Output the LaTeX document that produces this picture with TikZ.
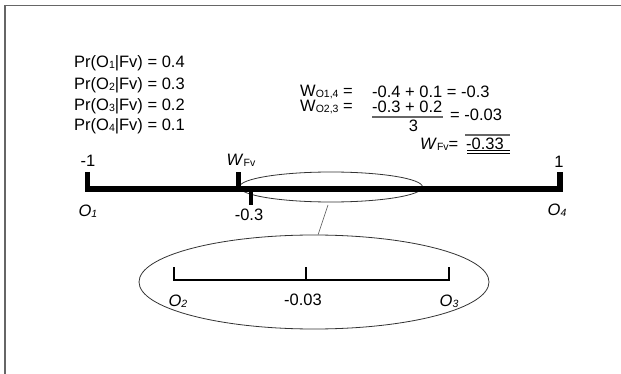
\documentclass[tikz,border=0pt]{standalone}
\usepackage{fontspec}
\setmainfont{Liberation Sans}
\usetikzlibrary{shapes.geometric,calc}
\newcommand{\lowsub}[1]{\raisebox{-1pt}{\fontsize{10.5}{11}\selectfont #1}}
\begin{document}
\begin{tikzpicture}[x=1pt, y=-1pt,
    lbl/.style={font=\fontsize{16.5}{19}\selectfont, inner sep=0pt},
    axisline/.style={line width=5.5pt, line join=miter, line cap=butt},
    minoraxis/.style={line width=2.6pt, line join=miter},
    zoomring/.style={ellipse, draw=black!80, line width=0.8pt, inner sep=0pt},
    rule/.style={draw=black!60, line width=1.3pt},
    frameline/.style={draw=black!60, line width=1.6pt}
]
    \useasboundingbox (0,0) rectangle (621,374);
    \draw[frameline] (5,374) -- (5,5.5) -- (621,5.5);
    \foreach \i/\p/\y in {1/0.4/63, 2/0.3/85, 3/0.2/106, 4/0.1/126}
        \node[lbl, anchor=west] (pr\i) at (74,\y) {Pr(O\lowsub{\i}|Fv) = \p};
    \node[lbl, anchor=west] (w14) at (300,92) {W\lowsub{O1,4} =};
    \node[lbl, anchor=west] (w14v) at (372,92) {-0.4 + 0.1 = -0.3};
    \node[lbl, anchor=west] (w23) at (300,107) {W\lowsub{O2,3} =};
    \node[lbl, anchor=west] (num) at (372,107) {-0.3 + 0.2};
    \node[lbl] (den) at (413.5,126) {3};
    \node[lbl, anchor=west] (w23v) at (450,115) {= -0.03};
    \draw[rule] ($(num.south west)+(0,4)$) -- ($(num.south east)+(0,4)$);
    \node[lbl, anchor=west] (wfv) at (420,144) {\textit{W}\lowsub{Fv}=};
    \node[lbl, anchor=west] (wfvv) at (466,144) {-0.33};
    \draw[rule] (465,135) -- (510,135);
    \draw[line width=1pt] (467,151) -- (510,151) (467,154) -- (510,154);
    \node[zoomring, minimum width=183pt, minimum height=30pt] (small) at (331,187) {};
    \node[zoomring, minimum width=350pt, minimum height=94pt] (big) at (314,282) {};
    \coordinate (zoomtop) at (328,205);
    \draw[black!70, line width=0.6pt] (zoomtop) -- (big.85);
    \coordinate (o1) at (87.5,189);
    \coordinate (o4) at (560,189);
    \coordinate (wtick) at (238.5,189);
    \coordinate (rtick) at (251,189);
    \draw[axisline] ($(o1)+(0,-17)$) -- (o1) -- (o4) -- ($(o4)+(0,-17)$);
    \draw[line width=5pt] (wtick) -- ++(0,-17);
    \draw[line width=4pt] (rtick) -- ++(0,16);
    \node[lbl] (m1) at (88,161) {-1};
    \node[lbl] (p1) at (559,162) {1};
    \node[lbl] (wlbl) at (241,160) {\textit{W}\lowsub{Fv}};
    \node[lbl] (o1lbl) at (88,211) {\textit{O\lowsub{1}}};
    \node[lbl] (o4lbl) at (557,210) {\textit{O\lowsub{4}}};
    \node[lbl] (m03) at (249,215) {-0.3};
    \coordinate (o2) at (174,280);
    \coordinate (o3) at (449,280);
    \coordinate (mid) at (306,280);
    \draw[minoraxis] ($(o2)+(0,-13)$) -- (o2) -- (o3) -- ($(o3)+(0,-13)$);
    \draw[line width=2.6pt] (mid) -- ++(0,-13);
    \node[lbl] (o2lbl) at (178,301) {\textit{O\lowsub{2}}};
    \node[lbl] (m003) at (303,300) {-0.03};
    \node[lbl] (o3lbl) at (449,301) {\textit{O\lowsub{3}}};
\end{tikzpicture}
\end{document}
